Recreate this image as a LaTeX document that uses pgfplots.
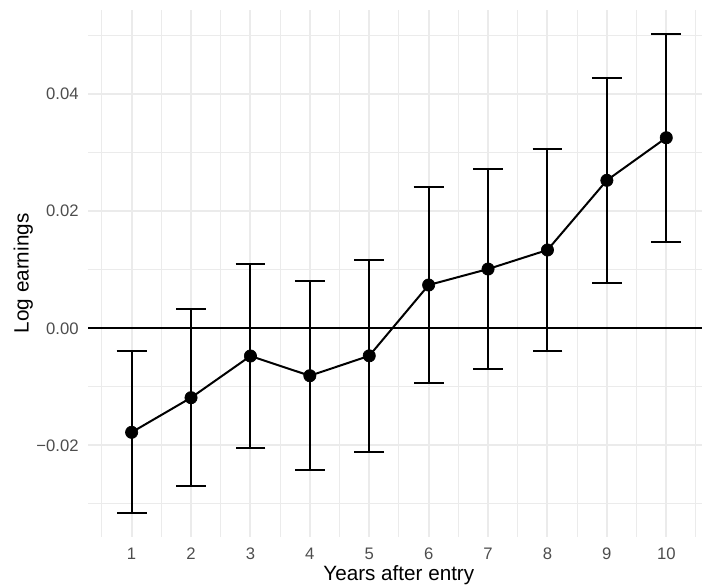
\documentclass[border=0pt]{standalone}
\usepackage{pgfplots}
\pgfplotsset{compat=1.18}
\usepackage{pgfplotstable}
\usepackage{fontspec}
\setmainfont{Liberation Sans}
\definecolor{gridgray}{HTML}{EBEBEB}
\definecolor{tickgray}{HTML}{4D4D4D}
\pgfplotstableread{
x y e
1 -0.01776 0.01383
2 -0.01185 0.01508
3 -0.00473 0.01571
4 -0.00810 0.01610
5 -0.00470 0.01644
6 0.00739 0.01673
7 0.01012 0.01702
8 0.01337 0.01724
9 0.02527 0.01752
10 0.03254 0.01776
}\datatable
\begin{document}
\begin{tikzpicture}
\begin{axis}[
  at={(66.2pt,37pt)}, anchor=south west,
  scale only axis,
  width=465.8pt, height=395pt,
  xmin=0.27, xmax=10.725,
  ymin=-0.03558, ymax=0.05435,
  xtick={1,2,3,4,5,6,7,8,9,10},
  xticklabels={1,2,3,4,5,6,7,8,9,10},
  minor xtick={0.5,1.5,2.5,3.5,4.5,5.5,6.5,7.5,8.5,9.5,10.5},
  ytick={-0.02,0,0.02,0.04},
  yticklabels={−0.02,0.00,0.02,0.04},
  minor ytick={-0.03,-0.01,0.01,0.03,0.05},
  /pgf/number format/assume math mode=true,
  grid=both,
  major grid style={gridgray, line width=1.5pt},
  minor grid style={gridgray, line width=0.75pt},
  major tick length=0pt, minor tick length=0pt,
  axis line style={draw=none},
  ticklabel style={font=\fontsize{12.5}{12.5}\selectfont, text=tickgray, inner sep=0pt},
  xticklabel style={anchor=north, yshift=-8.2pt},
  yticklabel style={anchor=east, xshift=-7pt},
  scaled y ticks=false,
  xlabel={Years after entry},
  ylabel={Log earnings},
  label style={font=\fontsize{15.5}{15.5}\selectfont, inner sep=0pt},
  xlabel style={at={(axis description cs:0.5,0)}, anchor=north, yshift=-21.2pt},
  ylabel style={at={(axis description cs:-0.0886,0.5)}, anchor=south},
  clip=false,
]
\addplot[black, line width=1.5pt, forget plot] coordinates {(0.27,0) (10.725,0)};
\addplot[black, line width=1.5pt, mark=*, mark size=4.6pt,
  mark options={fill=black, draw=black, line width=0.5pt},
  error bars/.cd, y dir=both, y explicit,
  error bar style={line width=1.5pt, black},
  error mark=-,
  error mark options={rotate=90, line width=1.5pt, mark size=11.2pt, black}]
  table[x=x, y=y, y error=e] {\datatable};
\end{axis}
\pgfresetboundingbox
\useasboundingbox (0,0) rectangle (526.5pt,439.5pt);
\end{tikzpicture}
\end{document}
